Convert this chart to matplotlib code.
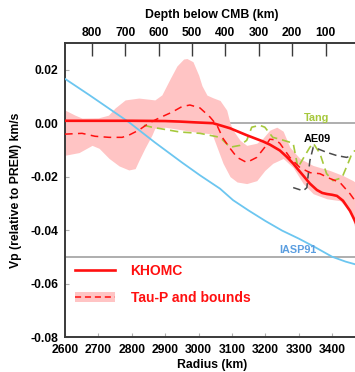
import matplotlib
matplotlib.use("Agg")
import matplotlib.pyplot as plt
from matplotlib.lines import Line2D
from matplotlib.patches import Patch
import numpy as np

plt.rcParams['font.family'] = ['Liberation Sans', 'DejaVu Sans']
plt.rcParams['font.weight'] = 'bold'
plt.rcParams['axes.unicode_minus'] = False

CMB = 3480

# KHOMC model
khomc_r = [2600, 2700, 2800, 2900, 2944, 2990, 3043, 3094, 3144, 3192, 3213, 3243,
           3263, 3283, 3298, 3313, 3333, 3354, 3370, 3384, 3400, 3414, 3432, 3453, 3468, 3480]
khomc_v = [0.0009, 0.0009, 0.0009, 0.0008, 0.0006, 0.0003, 0.0000, -0.0019, -0.0045, -0.0068,
           -0.0080, -0.0102, -0.0125, -0.0151, -0.0174, -0.0196, -0.0226, -0.0250, -0.0261,
           -0.0265, -0.0268, -0.0272, -0.0290, -0.0328, -0.0366, -0.0400]

# Tau-P model
taup_r = [2600, 2651, 2690, 2732, 2771, 2791, 2821, 2851, 2881, 2920, 2950, 2974, 3004, 3034,
          3055, 3073, 3094, 3115, 3144, 3174, 3198, 3213, 3228, 3243, 3273, 3303, 3333, 3363,
          3393, 3423, 3453, 3468, 3480]
taup_v = [-0.0041, -0.0038, -0.0049, -0.0053, -0.0053, -0.0045, -0.0026, 0.0000, 0.0019, 0.0041,
          0.0062, 0.0068, 0.0057, 0.0023, -0.0008, -0.0057, -0.0094, -0.0128, -0.0147, -0.0128,
          -0.0090, -0.0060, -0.0062, -0.0075, -0.0128, -0.0166, -0.0185, -0.0189, -0.0207,
          -0.0222, -0.0264, -0.0290, -0.0320]

# Tau-P bounds
upper_r = [2600, 2630, 2651, 2700, 2730, 2750, 2780, 2821, 2869, 2890, 2915, 2935, 2955, 2965,
           2983, 3000, 3010, 3025, 3043, 3064, 3084, 3094, 3103, 3124, 3144, 3174, 3192, 3213,
           3234, 3253, 3273, 3303, 3342, 3393, 3432, 3462, 3480]
upper_v = [0.0049, 0.0030, 0.0019, 0.0020, 0.0030, 0.0057, 0.0087, 0.0094, 0.0087, 0.0106,
           0.0167, 0.0214, 0.0240, 0.0242, 0.0230, 0.0180, 0.0140, 0.0105, 0.0095, 0.0085,
           0.0049, 0.0000, -0.0026, -0.0064, -0.0083, -0.0075, -0.0057, -0.0026, -0.0015,
           -0.0030, -0.0090, -0.0132, -0.0158, -0.0177, -0.0196, -0.0215, -0.0230]
lower_r = [2600, 2642, 2681, 2702, 2732, 2762, 2791, 2810, 2821, 2839, 2860, 2869, 2899, 2950,
           3000, 3040, 3055, 3073, 3094, 3115, 3144, 3174, 3198, 3222, 3253, 3283, 3313, 3343,
           3384, 3423, 3453, 3468, 3480]
lower_v = [-0.0120, -0.0110, -0.0083, -0.0094, -0.0132, -0.0160, -0.0175, -0.0170, -0.0140,
           -0.0094, -0.0045, -0.0019, -0.0015, -0.0025, -0.0035, -0.0040, -0.0090, -0.0150,
           -0.0200, -0.0220, -0.0226, -0.0215, -0.0177, -0.0150, -0.0132, -0.0166, -0.0226,
           -0.0264, -0.0283, -0.0290, -0.0328, -0.0392, -0.0420]

# IASP91
iasp_r = [2600, 2672, 2791, 2869, 2950, 3004, 3064, 3103, 3150, 3200, 3250, 3300, 3350, 3400, 3440, 3480]
iasp_v = [0.0166, 0.0106, 0.0004, -0.0072, -0.0147, -0.0195, -0.0245, -0.0288, -0.0327,
          -0.0366, -0.0402, -0.0432, -0.0465, -0.0500, -0.0518, -0.0532]

# Tang
tang_r = [2836, 2860, 2944, 3004, 3064, 3094, 3124, 3144, 3159, 3183, 3198, 3222, 3243, 3283,
          3297, 3313, 3333, 3343, 3363, 3383, 3402, 3429, 3447, 3459, 3468]
tang_v = [-0.0008, -0.0015, -0.0033, -0.0038, -0.0053, -0.0090, -0.0083, -0.0064, -0.0015,
          -0.0008, -0.0015, -0.0053, -0.0060, -0.0075, -0.0166, -0.0132, -0.0090, -0.0075,
          -0.0113, -0.0189, -0.0215, -0.0204, -0.0151, -0.0113, -0.0102]

# AE09
ae_r = [3283, 3313, 3324, 3327, 3333, 3343, 3353, 3383, 3413, 3443, 3458]
ae_v = [-0.0241, -0.0253, -0.0241, -0.0204, -0.0140, -0.0090, -0.0094, -0.0109, -0.0121,
        -0.0128, -0.0121]

xticks = [2600, 2700, 2800, 2900, 3000, 3100, 3200, 3300, 3400]
yticks = [-0.08, -0.06, -0.04, -0.02, 0.00, 0.02]
depth_ticks = [800, 700, 600, 500, 400, 300, 200, 100]

RED = '#ff1010'
PINK = '#ffc4c4'
BLUE = '#6cc6f0'
GREEN = '#a6c83c'
GREY = '#a8a8a8'
DARK = '#3a3a3a'

fig = plt.figure(figsize=(3.55, 3.72), dpi=100)
ax = fig.add_axes([65/355, 35/372, 294/355, 294/372])

ax.axhline(0.0, color=GREY, lw=1.3, zorder=1)
ax.axhline(-0.05, color=GREY, lw=1.3, zorder=1)

# band between the two bounds, on the union of the bound radii
grid = np.array(sorted(set(upper_r) | set(lower_r)), dtype=float)
up = np.interp(grid, upper_r, upper_v)
lo = np.interp(grid, lower_r, lower_v)
ax.fill_between(grid, lo, up, color=PINK, lw=0, zorder=2)

ax.plot(iasp_r, iasp_v, color=BLUE, lw=1.3, zorder=3)
ax.plot(tang_r, tang_v, color=GREEN, lw=1.2, ls=(0, (5, 3)), zorder=3)
ax.plot(ae_r, ae_v, color='#4a4a4a', lw=1.1, ls=(0, (5, 3)), zorder=3)
ax.plot(taup_r, taup_v, color=RED, lw=1.1, ls=(0, (5, 3.5)), zorder=4)
ax.plot(khomc_r, khomc_v, color=RED, lw=1.9, zorder=5)

ax.text(3352, 0.0019, 'Tang', color=GREEN, fontsize=7.8, fontweight='bold',
        ha='center', va='center', zorder=6)
ax.text(3354, -0.0060, 'AE09', color='black', fontsize=7.8, fontweight='bold',
        ha='center', va='center', zorder=6)
ax.text(3297, -0.0475, 'IASP91', color='#5b9ee0', fontsize=7.8, fontweight='bold',
        ha='center', va='center', zorder=6)

ax.set_xlim(2600, CMB)
ax.set_ylim(-0.08, 0.03)
ax.set_xticks(xticks)
ax.set_xticklabels([str(t) for t in xticks])
ax.set_yticks(yticks)
ax.set_yticklabels(['%.2f' % t for t in yticks])
ax.tick_params(axis='both', direction='in', length=3, width=0.8, color='#b0b0b0',
               labelsize=8.7, pad=5)
ax.tick_params(axis='x', top=True, pad=5)
for lab in ax.get_xticklabels() + ax.get_yticklabels():
    lab.set_fontweight('bold')

for s in ['left', 'bottom', 'top']:
    ax.spines[s].set_color(DARK)
    ax.spines[s].set_linewidth(1.4)
ax.spines['right'].set_visible(False)

ax.set_xlabel('Radius (km)', fontsize=8.8, fontweight='bold', labelpad=2)
ax.set_ylabel('Vp (relative to PREM) km/s', fontsize=8.8, fontweight='bold', labelpad=6)

ax2 = ax.twiny()
ax2.set_xlim(CMB - 2600, CMB - CMB)
ax2.set_xticks(depth_ticks)
ax2.set_xticklabels([str(t) for t in depth_ticks])
ax2.tick_params(axis='x', direction='in', length=9, width=1.0, color=DARK,
                labelsize=8.7, pad=3)
for lab in ax2.get_xticklabels():
    lab.set_fontweight('bold')
for s in ax2.spines.values():
    s.set_visible(False)
ax2.set_xlabel('Depth below CMB (km)', fontsize=8.8, fontweight='bold', labelpad=6)

h1 = Line2D([], [], color=RED, lw=1.9)
h2 = (Patch(facecolor=PINK, edgecolor='none'), Line2D([], [], color=RED, lw=1.1, ls=(0, (4, 2.5))))
leg = ax.legend([h1, h2], ['KHOMC', 'Tau-P and bounds'], loc='center left',
                bbox_to_anchor=(0.034, 0.1786), frameon=False, fontsize=10,
                handlelength=2.9, handletextpad=1.1, labelspacing=0.95,
                borderpad=0, borderaxespad=0)
for t in leg.get_texts():
    t.set_color(RED)
    t.set_fontweight('bold')

fig.savefig('out.png', dpi=100)
